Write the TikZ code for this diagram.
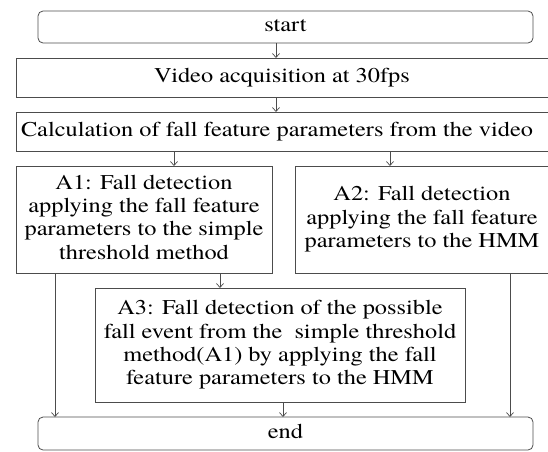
\documentclass[tikz,border=0pt]{standalone}
\usepackage{fontspec}
\setmainfont{texgyretermes}[Extension=.otf,UprightFont=*-regular,BoldFont=*-bold,ItalicFont=*-italic,BoldItalicFont=*-bolditalic]
\usetikzlibrary{arrows.meta}
\newcommand\wtxt[1]{\scalebox{1.16}[1]{\begin{tabular}{@{}c@{}}#1\end{tabular}}}
\begin{document}
\begin{tikzpicture}[x=1pt,y=-1pt,
  box/.style={draw=black!70,line width=0.8pt},
  rbox/.style={box,rounded corners=5pt},
  txt/.style={font=\fontsize{21}{23.3}\selectfont,inner sep=0pt},
  arr/.style={draw=black!70,line width=0.7pt,-{Straight Barb[length=4pt,width=7pt]}}]
\useasboundingbox (0,0) rectangle (548,451);
% boxes
\draw[rbox] (38,11) rectangle (533,43);
\node[txt] (start) at (285.5,27) {\wtxt{start}};
\draw[box] (16,58) rectangle (549,97);
\node[txt] (video) at (282,77.5) {\wtxt{Video acquisition at 30fps}};
\draw[box] (16,112) rectangle (549,151);
\node[txt] (calc) at (277,131.5) {\wtxt{Calculation of fall feature parameters from the video}};
\draw[box] (16,166) rectangle (272,273);
\node[txt] (A1) at (144,219.5) {\wtxt{A1: Fall detection\\applying the fall feature\\parameters to the simple\\threshold method}};
\draw[box] (295,166) rectangle (549,273);
\node[txt] (A2) at (422,219.5) {\wtxt{A2: Fall detection\\applying the fall feature\\parameters to the HMM}};
\draw[box] (95,288) rectangle (465,402);
\node[txt] (A3) at (280,345) {\wtxt{A3: Fall detection of the possible\\fall event from the~ simple threshold\\method(A1) by applying the fall\\feature parameters to the HMM}};
\draw[rbox] (38,417) rectangle (533,450);
\node[txt] (endn) at (285.5,433.5) {\wtxt{end}};
% connector end points on box edges
\coordinate (sB) at (276,43);
\coordinate (vT) at (276,58);
\coordinate (vB) at (276,97);
\coordinate (cT) at (276,112);
\coordinate (c1) at (174,151);
\coordinate (a1T) at (174,166);
\coordinate (c2) at (390,151);
\coordinate (a2T) at (390,166);
\coordinate (a1B) at (220,273);
\coordinate (a3T) at (220,288);
\coordinate (a3B) at (283,402);
\coordinate (eT) at (283,417);
\coordinate (a1L) at (55,273);
\coordinate (eL) at (55,417);
\coordinate (a2R) at (510,273);
\coordinate (eR) at (510,417);
\draw[arr] (sB) -- (vT);
\draw[arr] (vB) -- (cT);
\draw[arr] (c1) -- (a1T);
\draw[arr] (c2) -- (a2T);
\draw[arr] (a1B) -- (a3T);
\draw[arr] (a3B) -- (eT);
\draw[arr] (a1L) -- (eL);
\draw[arr] (a2R) -- (eR);
\end{tikzpicture}
\end{document}
